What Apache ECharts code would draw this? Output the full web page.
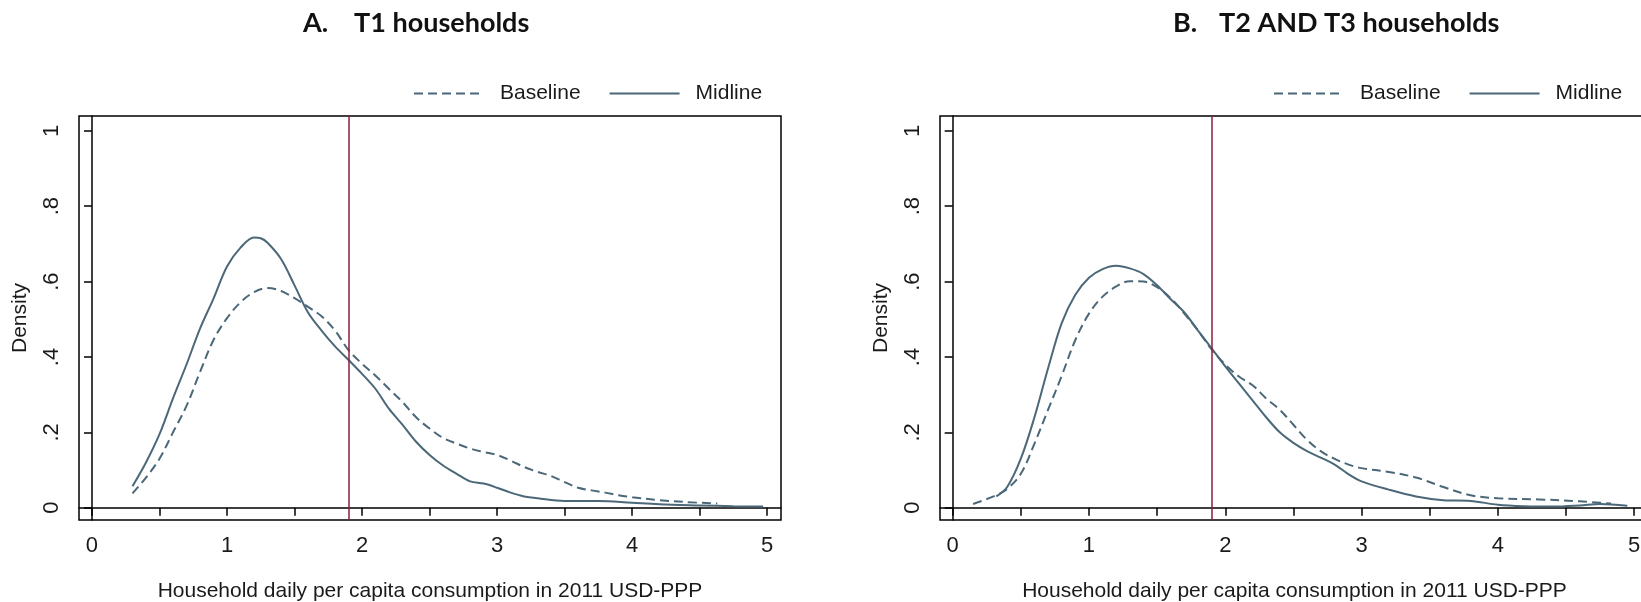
<!DOCTYPE html>
<html>
<head>
<meta charset="utf-8">
<script src="https://cdn.jsdelivr.net/npm/echarts@6/dist/echarts.min.js"></script>
<style>
  html, body { margin: 0; padding: 0; background: #fff; }
  #chart { width: 1641px; height: 602px; }
</style>
</head>
<body>
<div id="chart"></div>
<script>
// Kernel density estimates of household daily per capita consumption (2011 USD-PPP)

// Panel A: T1 households
const t1BaselineX = [0.30, 0.40, 0.50, 0.60, 0.70, 0.80, 0.90, 1.00, 1.10, 1.20, 1.30, 1.40, 1.50, 1.60, 1.70, 1.80, 1.90, 2.00, 2.10, 2.20, 2.30, 2.40, 2.50, 2.60, 2.70, 2.80, 2.90, 3.00, 3.10, 3.20, 3.30, 3.40, 3.50, 3.60, 3.70, 3.80, 3.90, 4.00, 4.20, 4.40, 4.63];
const t1BaselineY = [0.038, 0.080, 0.130, 0.200, 0.270, 0.360, 0.445, 0.503, 0.545, 0.572, 0.583, 0.575, 0.556, 0.533, 0.508, 0.470, 0.418, 0.382, 0.350, 0.315, 0.280, 0.240, 0.210, 0.185, 0.170, 0.157, 0.148, 0.140, 0.125, 0.108, 0.095, 0.084, 0.068, 0.053, 0.046, 0.040, 0.033, 0.028, 0.020, 0.015, 0.011];

const t1MidlineX = [0.30, 0.40, 0.50, 0.60, 0.70, 0.80, 0.90, 1.00, 1.10, 1.20, 1.25, 1.30, 1.40, 1.50, 1.60, 1.70, 1.80, 1.90, 2.00, 2.10, 2.20, 2.30, 2.40, 2.50, 2.60, 2.70, 2.80, 2.90, 3.00, 3.10, 3.20, 3.30, 3.50, 3.75, 4.00, 4.20, 4.50, 4.75, 4.97];
const t1MidlineY = [0.057, 0.120, 0.195, 0.290, 0.380, 0.475, 0.555, 0.640, 0.690, 0.717, 0.715, 0.703, 0.660, 0.590, 0.518, 0.470, 0.428, 0.392, 0.355, 0.315, 0.262, 0.220, 0.175, 0.140, 0.112, 0.090, 0.070, 0.064, 0.053, 0.040, 0.030, 0.025, 0.018, 0.018, 0.013, 0.009, 0.006, 0.004, 0.003];

// Panel B: T2 and T3 households
const t23BaselineX = [0.15, 0.30, 0.40, 0.50, 0.60, 0.70, 0.80, 0.90, 1.00, 1.10, 1.20, 1.30, 1.40, 1.50, 1.60, 1.70, 1.80, 1.90, 2.00, 2.10, 2.20, 2.30, 2.40, 2.50, 2.60, 2.70, 2.80, 2.90, 3.00, 3.20, 3.40, 3.60, 3.80, 4.00, 4.30, 4.60, 4.83];
const t23BaselineY = [0.010, 0.030, 0.050, 0.090, 0.170, 0.260, 0.350, 0.445, 0.515, 0.560, 0.587, 0.601, 0.600, 0.585, 0.556, 0.515, 0.470, 0.420, 0.380, 0.348, 0.325, 0.290, 0.260, 0.220, 0.180, 0.150, 0.130, 0.115, 0.105, 0.095, 0.080, 0.055, 0.033, 0.025, 0.022, 0.017, 0.011];

const t23MidlineX = [0.32, 0.40, 0.50, 0.60, 0.70, 0.80, 0.90, 1.00, 1.10, 1.20, 1.30, 1.40, 1.50, 1.60, 1.70, 1.80, 1.90, 2.00, 2.10, 2.20, 2.30, 2.40, 2.50, 2.60, 2.70, 2.80, 2.90, 3.00, 3.20, 3.40, 3.60, 3.80, 4.00, 4.20, 4.40, 4.60, 4.75, 4.95];
const t23MidlineY = [0.030, 0.055, 0.130, 0.240, 0.370, 0.490, 0.565, 0.610, 0.633, 0.642, 0.635, 0.620, 0.590, 0.553, 0.518, 0.470, 0.423, 0.375, 0.330, 0.285, 0.240, 0.200, 0.172, 0.150, 0.133, 0.115, 0.090, 0.070, 0.048, 0.030, 0.020, 0.018, 0.008, 0.004, 0.003, 0.006, 0.010, 0.005];

// Axis ticks and the $1.90 poverty line
const xTickValues = [0, 0.5, 1, 1.5, 2, 2.5, 3, 3.5, 4, 4.5, 5];
const xLabelValues = [0, 1, 2, 3, 4, 5];
const yTickValues = [0, 0.2, 0.4, 0.6, 0.8, 1];
const POVERTY_LINE = 1.9;

const seriesNames = ['Baseline', 'Midline'];
const panelTitles = [['A.', 'T1 households'], ['B.', 'T2 AND T3 households']];

const pairs = (xs, ys) => xs.map((x, i) => [x, ys[i]]);

const LINE_COLOR = '#4b6879';
const RED = '#8e1b3e';
const TEXT = '#1a1a1a';
const FONT = "'Liberation Sans', Arial, sans-serif";

function xAxisFor(gridIndex, min, max) {
  return {
    type: 'value', gridIndex, min, max,
    name: 'Household daily per capita consumption in 2011 USD-PPP',
    nameLocation: 'middle', nameGap: 61,
    nameTextStyle: { fontSize: 21, color: TEXT, fontFamily: FONT },
    axisLine: { show: true, lineStyle: { color: '#000', width: 1.5 } },
    axisTick: { show: true, length: 8, lineStyle: { color: '#000', width: 1.5 }, customValues: xTickValues },
    axisLabel: { fontSize: 22, color: TEXT, fontFamily: FONT, margin: 15, customValues: xLabelValues,
                 formatter: v => String(v) },
    splitLine: { show: false }
  };
}

function yAxisFor(gridIndex) {
  return {
    type: 'value', gridIndex, min: -0.0326, max: 1.0393,
    name: 'Density', nameLocation: 'middle', nameGap: 48,
    nameTextStyle: { fontSize: 21, color: TEXT, fontFamily: FONT },
    axisLine: { show: true, lineStyle: { color: '#000', width: 1.5 } },
    axisTick: { show: true, length: 8, lineStyle: { color: '#000', width: 1.5 }, customValues: yTickValues },
    axisLabel: { fontSize: 22, color: TEXT, fontFamily: FONT, rotate: 90, margin: 16, customValues: yTickValues,
                 formatter: v => (v === 0 ? '0' : v === 1 ? '1' : String(v).replace(/^0/, '')) },
    splitLine: { show: false }
  };
}

function densitySeries(name, data, idx, dashed, withLine) {
  const s = {
    name, type: 'line', xAxisIndex: idx, yAxisIndex: idx,
    data, smooth: 0.35, symbol: 'none', showSymbol: false,
    lineStyle: { color: LINE_COLOR, width: 2, type: dashed ? [9, 5] : 'solid' },
    itemStyle: { color: LINE_COLOR },
    animation: false, z: 3
  };
  if (withLine) {
    s.markLine = {
      silent: true, symbol: ['none', 'none'], animation: false,
      label: { show: false },
      lineStyle: { color: RED, width: 1.5, type: 'solid' },
      data: [{ xAxis: POVERTY_LINE }]
    };
  }
  return s;
}

const titleStyle = { fontFamily: 'Lato, sans-serif', fontWeight: 'bold', fontSize: 27, color: '#111' };
const legendBase = {
  top: 78, orient: 'horizontal', itemWidth: 70, itemHeight: 14, itemGap: 28,
  data: seriesNames,
  itemStyle: { color: 'rgba(0,0,0,0)', borderWidth: 0, opacity: 0 },
  textStyle: { fontSize: 21, color: TEXT, fontFamily: FONT, padding: [0, 0, 0, 11] }
};

const gridBase = { show: true, borderColor: '#000', borderWidth: 1.5, backgroundColor: '#fff', outerBoundsMode: 'none', containLabel: false };

const option = {
  backgroundColor: '#fff',
  animation: false,
  title: [
    { text: panelTitles[0][0], left: 303, top: 10, padding: 0, textStyle: titleStyle },
    { text: panelTitles[0][1], left: 354, top: 10, padding: 0, textStyle: titleStyle },
    { text: panelTitles[1][0], left: 1173, top: 10, padding: 0, textStyle: titleStyle },
    { text: panelTitles[1][1], left: 1219, top: 10, padding: 0, textStyle: titleStyle }
  ],
  legend: [
    Object.assign({}, legendBase, { left: 408 }),
    Object.assign({}, legendBase, { left: 1268 })
  ],
  grid: [
    Object.assign({}, gridBase, { left: 79, top: 116, width: 702, height: 404 }),
    Object.assign({}, gridBase, { left: 940, top: 116, width: 709, height: 404 })
  ],
  xAxis: [xAxisFor(0, -0.096, 5.102), xAxisFor(1, -0.093, 5.109)],
  yAxis: [yAxisFor(0), yAxisFor(1)],
  series: [
    densitySeries(seriesNames[0], pairs(t1BaselineX, t1BaselineY), 0, true, false),
    densitySeries(seriesNames[1], pairs(t1MidlineX, t1MidlineY), 0, false, true),
    densitySeries(seriesNames[0], pairs(t23BaselineX, t23BaselineY), 1, true, false),
    densitySeries(seriesNames[1], pairs(t23MidlineX, t23MidlineY), 1, false, true)
  ]
};

const chart = echarts.init(document.getElementById('chart'), null, { renderer: 'canvas' });
chart.setOption(option);
</script>
</body>
</html>
